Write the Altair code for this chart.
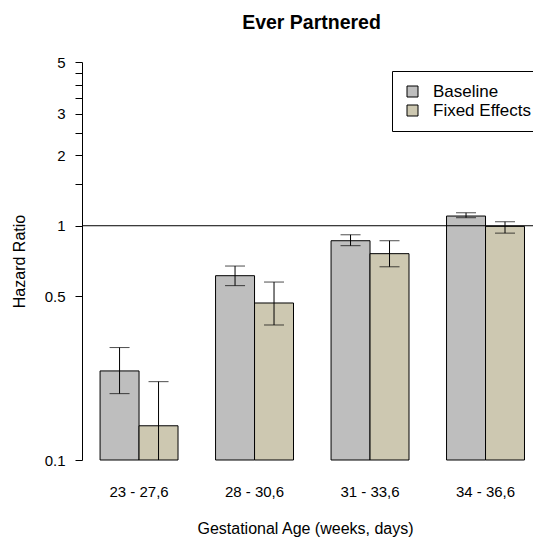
import altair as alt
import pandas as pd

groups = ["23 - 27,6", "28 - 30,6", "31 - 33,6", "34 - 36,6"]
series = ["Baseline", "Fixed Effects"]
colors = ["#BEBEBE", "#CDC8B1"]

baseline_hr = [0.240, 0.612, 0.863, 1.100]
baseline_lo = [0.192, 0.555, 0.822, 1.082]
baseline_hi = [0.302, 0.673, 0.915, 1.136]

fixed_hr = [0.140, 0.468, 0.760, 0.994]
fixed_lo = [0.090, 0.377, 0.668, 0.930]
fixed_hi = [0.216, 0.575, 0.863, 1.040]

y_ticks = [0.1, 0.5, 1, 1.5, 2, 2.5, 3, 3.5, 4, 4.5, 5]
y_labeled = [0.1, 0.5, 1, 2, 3, 5]

rows = []
for i, g in enumerate(groups):
    rows.append(dict(group=g, series=series[0], hr=baseline_hr[i], lo=baseline_lo[i], hi=baseline_hi[i]))
    rows.append(dict(group=g, series=series[1], hr=fixed_hr[i], lo=fixed_lo[i], hi=fixed_hi[i]))
df = pd.DataFrame(rows)

FONT = "Liberation Sans"

x_axis = alt.Axis(
    title="Gestational Age (weeks, days)", ticks=False, domain=False, labelAngle=0,
    labelPadding=24, labelFontSize=15, titleFontSize=16, titleFontWeight="normal",
    titleX=223, titleY=68, titleBaseline="middle", titleAnchor="middle",
)
x_scale = alt.Scale(paddingInner=0.325, paddingOuter=0.115, align=0.68)
xo = alt.XOffset("series:N", sort=series, scale=alt.Scale(paddingInner=0, paddingOuter=0))

y_axis = alt.Axis(
    title="Hazard Ratio", values=y_ticks, format="~g",
    labelExpr="indexof([0.1, 0.5, 1, 2, 3, 5], datum.value) >= 0 ? datum.label : ''",
    grid=False, tickSize=7, labelPadding=10, labelFontSize=15,
    domainColor="black", tickColor="black",
    titleFontSize=16, titleFontWeight="normal",
    titleX=-63, titleY=199, titleBaseline="middle", titleAngle=-90, titleAnchor="middle",
)
y_scale = alt.Scale(type="log", domain=[0.1, 5], nice=False)

base = alt.Chart(df)

bars = base.mark_bar(stroke="black", strokeWidth=1).encode(
    x=alt.X("group:N", sort=groups, scale=x_scale, axis=x_axis),
    xOffset=xo,
    y=alt.Y("hr:Q", scale=y_scale, axis=y_axis),
    y2=alt.datum(0.1),
    color=alt.Color(
        "series:N", sort=series,
        scale=alt.Scale(domain=series, range=colors),
        legend=alt.Legend(
            title=None, orient="none", legendX=310, legendY=9,
            strokeColor="black", fillColor="white", padding=12,
            symbolType="square", symbolSize=121, symbolStrokeColor="black",
            symbolStrokeWidth=1, labelFontSize=17, labelOffset=12, rowPadding=1,
            labelFont=FONT,
        ),
    ),
)

err = base.mark_rule(color="black", strokeWidth=1, clip=True).encode(
    x=alt.X("group:N", sort=groups, scale=x_scale, axis=x_axis),
    xOffset=xo,
    y=alt.Y("lo:Q", scale=y_scale, axis=y_axis),
    y2="hi:Q",
)

cap_hi = base.mark_tick(color="black", size=20, thickness=1, clip=True).encode(
    x=alt.X("group:N", sort=groups, scale=x_scale, axis=x_axis),
    xOffset=xo,
    y=alt.Y("hi:Q", scale=y_scale, axis=y_axis),
)

cap_lo = base.mark_tick(color="black", size=20, thickness=1, clip=True).encode(
    x=alt.X("group:N", sort=groups, scale=x_scale, axis=x_axis),
    xOffset=xo,
    y=alt.Y("lo:Q", scale=y_scale, axis=y_axis),
)

ref = alt.Chart(pd.DataFrame({"ref": [1.0]})).mark_rule(color="black", strokeWidth=1).encode(
    y=alt.Y("ref:Q", scale=y_scale, axis=y_axis),
)

chart = alt.layer(bars, err, cap_hi, cap_lo, ref).properties(
    width=451, height=398,
    title=alt.Title(
        "Ever Partnered", fontSize=19.5, fontWeight="bold", font=FONT,
        anchor="middle", frame="group", baseline="alphabetic", offset=7, dx=4, color="black",
    ),
    padding={"left": 82, "top": 62, "right": 0, "bottom": 77},
    autosize=alt.AutoSizeParams(type="none"),
).configure(font=FONT).configure_axis(
    labelFont=FONT, titleFont=FONT, labelColor="black", titleColor="black",
).configure_legend(labelColor="black").configure_view(strokeWidth=0)

chart.save("out.html", embed_options={"renderer": "svg", "actions": False})
